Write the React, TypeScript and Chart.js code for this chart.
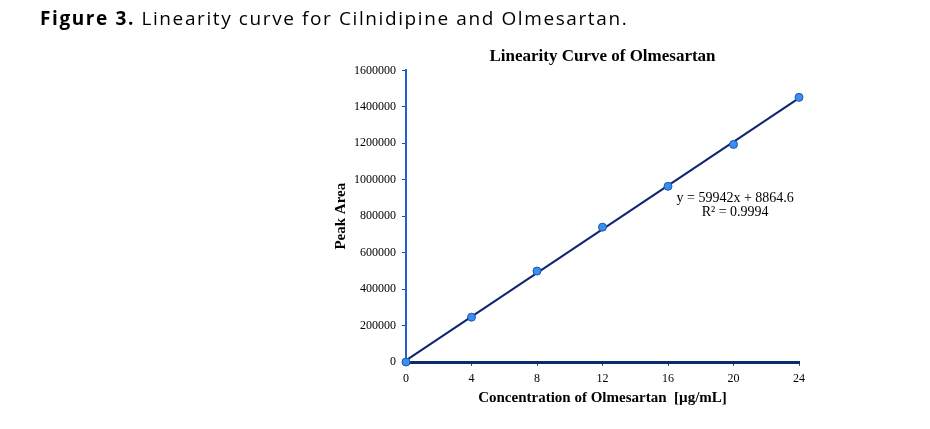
import React, { useEffect, useRef } from "react";
import { Chart, registerables } from "chart.js";

Chart.register(...registerables);

const concentrations = [0, 4, 8, 12, 16, 20, 24];
const peakAreas = [0, 246000, 499000, 740000, 964000, 1194000, 1452000];
const trendSlope = 59942;
const trendIntercept = 8864.6;
const trendX = [0, 24];
const equationLines = ["y = 59942x + 8864.6", "R\u00b2 = 0.9994"];

const SERIF = "'Liberation Serif', 'Times New Roman', serif";

const equationPlugin = {
  id: "equationText",
  afterDatasetsDraw(chart: any) {
    const { ctx, scales } = chart;
    const x = scales.x.getPixelForValue(20.1);
    const y1 = scales.y.getPixelForValue(900000);
    const y2 = scales.y.getPixelForValue(822000);
    ctx.save();
    ctx.fillStyle = "#000";
    ctx.font = `14px ${SERIF}`;
    ctx.textAlign = "center";
    ctx.textBaseline = "middle";
    ctx.fillText(equationLines[0], x, y1);
    ctx.fillText(equationLines[1], x, y2);
    ctx.restore();
  },
};

export default function App() {
  const ref = useRef<HTMLCanvasElement>(null);
  useEffect(() => {
    document.body.style.margin = "0";
    const chart = new Chart(ref.current!, {
      type: "scatter",
      data: {
        datasets: [
          {
            label: "Trendline",
            data: trendX.map((x) => ({ x, y: trendSlope * x + trendIntercept })),
            showLine: true,
            borderColor: "#0c2570",
            borderWidth: 2,
            pointRadius: 0,
            order: 1,
          },
          {
            label: "Peak Area",
            data: concentrations.map((x, i) => ({ x, y: peakAreas[i] })),
            showLine: false,
            pointRadius: 4,
            pointBackgroundColor: "#3a8ef0",
            pointBorderColor: "#1d55b0",
            pointBorderWidth: 1,
            order: 0,
          },
        ],
      },
      options: {
        animation: false,
        responsive: false,
        clip: false as any,
        layout: { padding: { left: 330, right: 131, top: 40, bottom: 20 } },
        plugins: {
          legend: { display: false },
          tooltip: { enabled: false },
          title: {
            display: true,
            fullSize: false,
            text: "Linearity Curve of Olmesartan",
            color: "#000",
            font: { family: SERIF, size: 17, weight: "bold" },
            padding: { top: 6, bottom: 4 },
          },
        },
        scales: {
          x: {
            type: "linear",
            min: 0,
            max: 24,
            afterFit: (s: any) => {
              s.height = 47;
            },
            ticks: {
              stepSize: 4,
              color: "#000",
              font: { family: SERIF, size: 12 },
              padding: 6,
              callback: (v: any) => String(v),
            },
            grid: {
              drawOnChartArea: false,
              drawTicks: true,
              tickLength: 4,
              color: "#1d4fb0",
            },
            border: { display: true, color: "#0c2a6e", width: 3 },
            title: {
              display: true,
              text: "Concentration of Olmesartan  [\u00b5g/mL]",
              color: "#000",
              font: { family: SERIF, size: 15, weight: "bold" },
              padding: { top: 4, bottom: 2 },
            },
          },
          y: {
            type: "linear",
            min: 0,
            max: 1600000,
            afterFit: (s: any) => {
              s.width = 76;
            },
            ticks: {
              stepSize: 200000,
              color: "#000",
              font: { family: SERIF, size: 12 },
              padding: 6,
              callback: (v: any) => String(v),
            },
            grid: {
              drawOnChartArea: false,
              drawTicks: true,
              tickLength: 4,
              color: "#1d4fb0",
            },
            border: { display: true, color: "#1f5fd0", width: 2 },
            title: {
              display: true,
              text: "Peak Area",
              color: "#000",
              font: { family: SERIF, size: 15, weight: "bold" },
              padding: { top: 2, bottom: 4 },
            },
          },
        },
      },
      plugins: [equationPlugin],
    });
    return () => chart.destroy();
  }, []);

  return (
    <div style={{ position: "relative", width: 930, height: 429, background: "#fff" }}>
      <div
        style={{
          position: "absolute",
          left: 40,
          top: 5,
          fontFamily: "'Open Sans', 'Noto Sans', sans-serif",
          fontSize: 19,
          letterSpacing: "1.6px",
          color: "#000",
          whiteSpace: "nowrap",
        }}
      >
        <b>Figure 3.</b> Linearity curve for Cilnidipine and Olmesartan.
      </div>
      <canvas ref={ref} width={930} height={429} style={{ display: "block" }} />
    </div>
  );
}
